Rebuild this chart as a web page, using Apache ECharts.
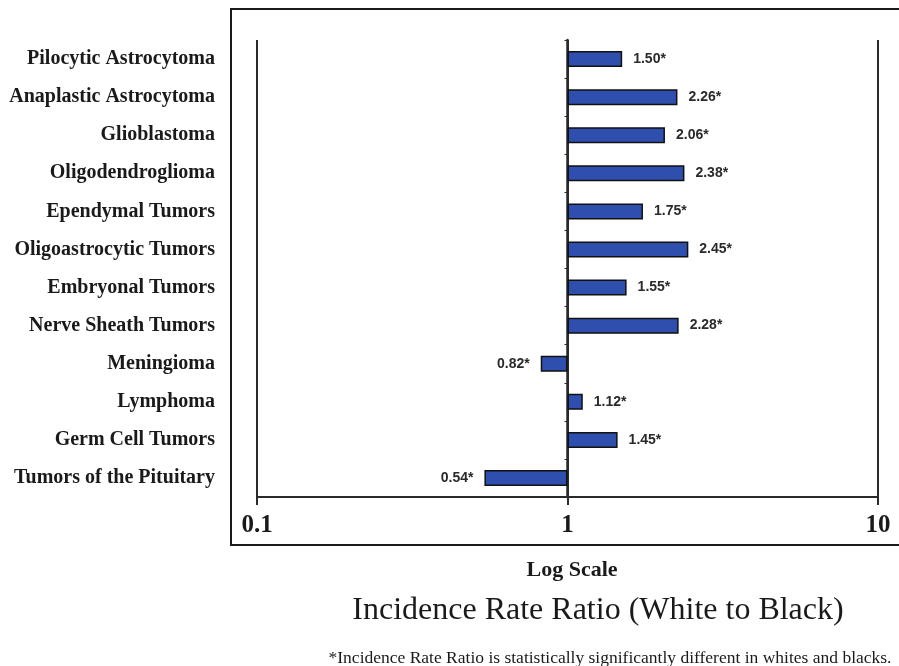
<!DOCTYPE html>
<html>
<head>
<meta charset="utf-8">
<script src="https://cdn.jsdelivr.net/npm/echarts@6/dist/echarts.min.js"></script>
<style>
  html, body { margin: 0; padding: 0; background: #fff; }
  #chart { width: 899px; height: 666px; }
</style>
</head>
<body>
<div id="chart"></div>
<script>
const categories = [
  'Pilocytic Astrocytoma',
  'Anaplastic Astrocytoma',
  'Glioblastoma',
  'Oligodendroglioma',
  'Ependymal Tumors',
  'Oligoastrocytic Tumors',
  'Embryonal Tumors',
  'Nerve Sheath Tumors',
  'Meningioma',
  'Lymphoma',
  'Germ Cell Tumors',
  'Tumors of the Pituitary'
];
const ratios = [1.50, 2.26, 2.06, 2.38, 1.75, 2.45, 1.55, 2.28, 0.82, 1.12, 1.45, 0.54];
const significant = [true, true, true, true, true, true, true, true, true, true, true, true];
const axisMin = 0.1;
const axisMax = 10;
const axisTitle = 'Log Scale';
const mainTitle = 'Incidence Rate Ratio (White to Black)';
const footnote = '*Incidence Rate Ratio is statistically significantly different in whites and blacks.';

const chart = echarts.init(document.getElementById('chart'), null, { renderer: 'canvas' });

const gridLeft = 257, gridRight = 21, gridTop = 40, gridBottom = 169;
const gridWidth = 899 - gridLeft - gridRight;
const lineColor = '#2a2a2a';

const option = {
  animation: false,
  backgroundColor: '#ffffff',
  grid: { left: gridLeft, right: gridRight, top: gridTop, bottom: gridBottom, containLabel: false },
  xAxis: {
    type: 'log',
    logBase: 10,
    min: axisMin,
    max: axisMax,
    axisLine: { show: true, lineStyle: { color: lineColor, width: 2 } },
    axisTick: { show: true, length: 8, lineStyle: { color: lineColor, width: 2 } },
    axisLabel: {
      margin: 16,
      fontFamily: '"Liberation Serif", "Times New Roman", serif',
      fontWeight: 'bold',
      fontSize: 25,
      color: '#1a1a1a',
      formatter: function (v) { return String(v); }
    },
    splitLine: { show: true, lineStyle: { color: lineColor, width: 2 } }
  },
  yAxis: [
    {
      type: 'category',
      data: categories,
      inverse: true,
      position: 'left',
      axisLine: { show: false },
      axisTick: { show: false },
      axisLabel: {
        margin: 42,
        fontFamily: '"Liberation Serif", "Times New Roman", serif',
        fontWeight: 'bold',
        fontSize: 20,
        color: '#1a1a1a'
      }
    },
    {
      type: 'category',
      data: categories,
      inverse: true,
      position: 'left',
      offset: -gridWidth / 2,
      axisLine: { show: true, lineStyle: { color: lineColor, width: 2.5 } },
      axisTick: { show: true, length: 3, lineStyle: { color: lineColor, width: 1 } },
      axisLabel: { show: false }
    }
  ],
  series: [
    {
      type: 'bar',
      yAxisIndex: 0,
      data: ratios,
      barWidth: 16,
      itemStyle: { color: '#2f4fae', borderColor: '#111', borderWidth: 1.5 },
      label: {
        show: true,
        position: 'outside',
        distance: 11,
        fontFamily: '"Liberation Sans", Arial, sans-serif',
        fontWeight: 'bold',
        fontSize: 14,
        color: '#2a2a2a',
        formatter: function (p) {
          return p.value.toFixed(2) + (significant[p.dataIndex] ? '*' : '');
        }
      }
    }
  ],
  graphic: [
    {
      type: 'rect',
      shape: { x: 231, y: 9, width: 720, height: 536 },
      style: { fill: 'none', stroke: '#1a1a1a', lineWidth: 2 },
      silent: true,
      z: 100
    },
    {
      type: 'text',
      x: 572, y: 570,
      style: {
        text: axisTitle,
        fontFamily: '"Liberation Serif", "Times New Roman", serif',
        fontWeight: 'bold', fontSize: 22, fill: '#1a1a1a',
        textAlign: 'center', textVerticalAlign: 'middle'
      }
    },
    {
      type: 'text',
      x: 598, y: 611,
      style: {
        text: mainTitle,
        fontFamily: '"Liberation Serif", "Times New Roman", serif',
        fontSize: 32, fill: '#1a1a1a',
        textAlign: 'center', textVerticalAlign: 'middle'
      }
    },
    {
      type: 'text',
      x: 610, y: 658,
      style: {
        text: footnote,
        fontFamily: '"Liberation Serif", "Times New Roman", serif',
        fontSize: 17.5, fill: '#1a1a1a',
        textAlign: 'center', textVerticalAlign: 'middle'
      }
    }
  ]
};

chart.setOption(option);
</script>
</body>
</html>
